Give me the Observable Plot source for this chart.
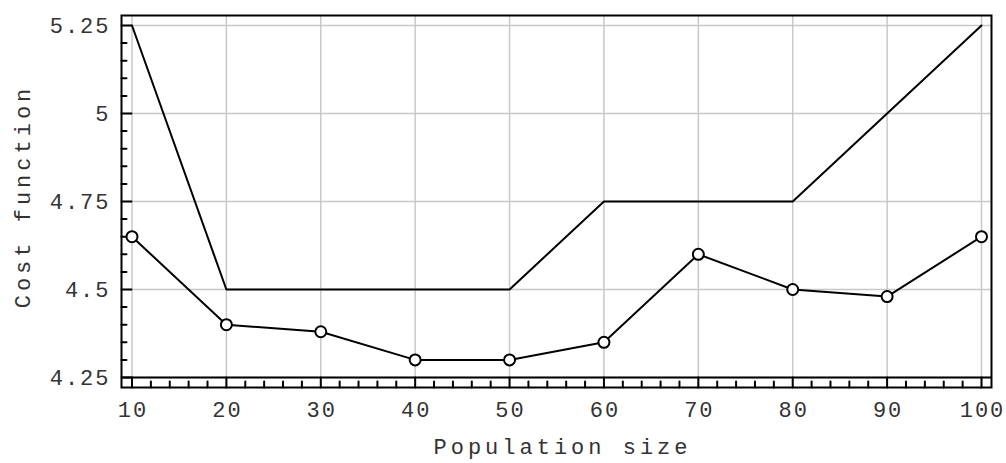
<!DOCTYPE html>
<html><head><meta charset="utf-8">
<script src="https://cdn.jsdelivr.net/npm/d3@7"></script>
<script src="https://cdn.jsdelivr.net/npm/@observablehq/plot@0.6"></script>
<style>
body{margin:0;background:#fff;}
svg text{letter-spacing:2px;}
</style></head><body><div id="chart"></div>
<script>
const populationSizes = [10, 20, 30, 40, 50, 60, 70, 80, 90, 100];
const upperCost = [5.25, 4.5, 4.5, 4.5, 4.5, 4.75, 4.75, 4.75, 5.0, 5.25];
const meanCost = [4.65, 4.40, 4.38, 4.30, 4.30, 4.35, 4.60, 4.50, 4.48, 4.65];
const xTicks = [10, 20, 30, 40, 50, 60, 70, 80, 90, 100];
const xTickLabels = ["10", "20", "30", "40", "50", "60", "70", "80", "90", "100"];
const yTicks = [4.25, 4.5, 4.75, 5, 5.25];
const yTickLabels = ["4.25", "4.5", "4.75", "5", "5.25"];
const xMinorTicks = d3.range(10, 100.1, 2).filter(v => v % 10 !== 0);
const yMinorTicks = d3.range(425, 525.1, 5).filter(v => v % 25 !== 0).map(v => v / 100);
const xTitle = "Population size";
const yTitle = "Cost function";

const data = populationSizes.map((p, i) => ({p, upper: upperCost[i], mean: meanCost[i]}));
const tickShape = {draw(ctx, l) { ctx.moveTo(0, 0); ctx.lineTo(0, -l); }};

const chart = Plot.plot({
  width: 1006, height: 463,
  marginLeft: 121, marginRight: 15, marginTop: 15, marginBottom: 76,
  style: {fontFamily: "'Courier New', 'Liberation Mono', 'DejaVu Sans Mono', monospace", fontSize: "22px", color: "#333", background: "white", overflow: "visible"},
  x: {domain: [10, 100], insetLeft: 10.5, insetRight: 10, axis: null},
  y: {domain: [4.25, 5.25], insetTop: 10, insetBottom: 10, axis: null},
  marks: [
    Plot.ruleX(xTicks, {x: d => d, stroke: "#c8c8c8", strokeWidth: 1.5}),
    Plot.ruleY(yTicks, {y: d => d, stroke: "#c8c8c8", strokeWidth: 1.5}),
    Plot.ruleY([yTicks[0]], {y: d => d, stroke: "black", strokeWidth: 2}),
    Plot.vector(yTicks, {y: d => d, frameAnchor: "left", length: 10, rotate: 90, anchor: "start", shape: tickShape, stroke: "black", strokeWidth: 2}),
    Plot.vector(yMinorTicks, {y: d => d, frameAnchor: "left", length: 5, rotate: 90, anchor: "start", shape: tickShape, stroke: "black", strokeWidth: 2}),
    Plot.vector(xTicks, {x: d => d, frameAnchor: "bottom", length: 10, anchor: "start", shape: tickShape, stroke: "black", strokeWidth: 2}),
    Plot.vector(xMinorTicks, {x: d => d, frameAnchor: "bottom", length: 6, anchor: "start", shape: tickShape, stroke: "black", strokeWidth: 2}),
    Plot.frame({stroke: "black", strokeWidth: 2}),
    Plot.line(data, {x: "p", y: "upper", stroke: "black", strokeWidth: 2}),
    Plot.line(data, {x: "p", y: "mean", stroke: "black", strokeWidth: 2}),
    Plot.dot(data, {x: "p", y: "mean", r: 5.5, fill: "white", stroke: "black", strokeWidth: 2}),
    Plot.text(yTicks, {y: d => d, text: (d, i) => yTickLabels[i], frameAnchor: "left", textAnchor: "end", dx: -11, fill: "#333"}),
    Plot.text(xTicks, {x: d => d, text: (d, i) => xTickLabels[i], frameAnchor: "bottom", dy: 29, dx: 1, fill: "#333"}),
    Plot.text([xTitle], {text: d => d, frameAnchor: "bottom", textAnchor: "middle", dy: 66, dx: 6, fill: "#333"}),
    Plot.text([yTitle], {text: d => d, frameAnchor: "left", textAnchor: "middle", dx: -99, dy: -5, rotate: -90, fill: "#333"})
  ]
});
chart.querySelectorAll("text").forEach(t => {
  if (t.textContent === xTitle || t.textContent === yTitle) t.style.letterSpacing = "4px";
});
document.getElementById("chart").appendChild(chart);
</script></body></html>
